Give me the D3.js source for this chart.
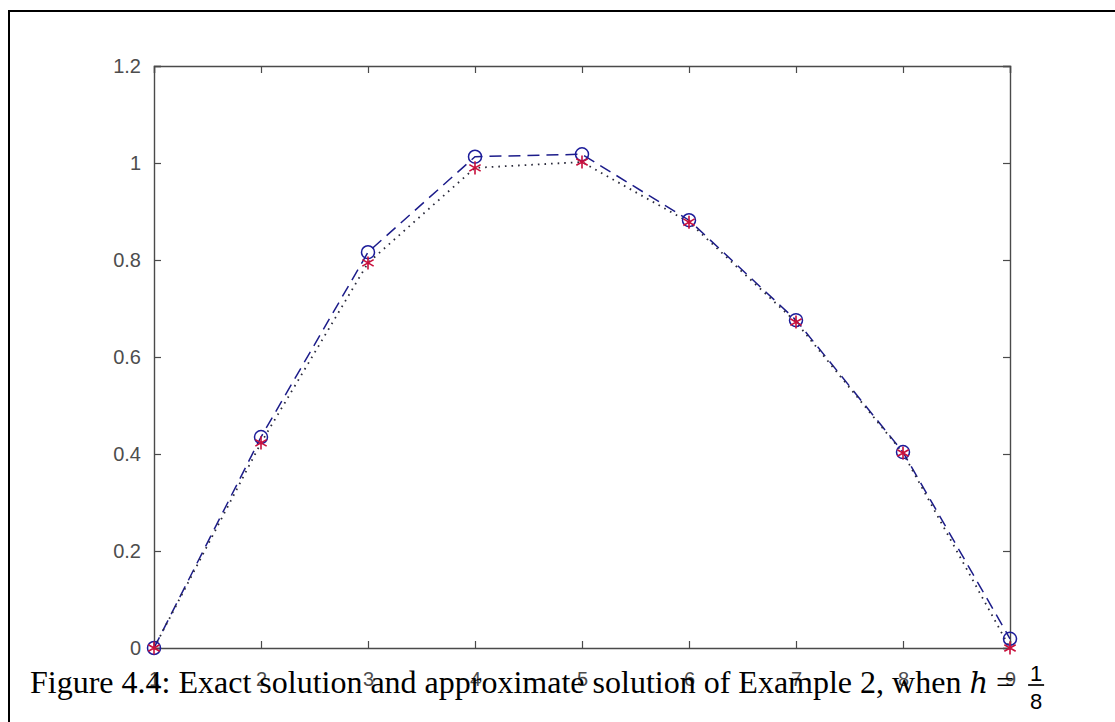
<!DOCTYPE html>
<html>
<head>
<meta charset="utf-8">
<script src="https://cdn.jsdelivr.net/npm/d3@7"></script>
<style>
  body { margin: 0; background: #fff; }
  svg { display: block; }
</style>
</head>
<body>
<div id="chart"></div>
<script>
const xValues = [1, 2, 3, 4, 5, 6, 7, 8, 9];
const exactValues = [0, 0.435, 0.816, 1.013, 1.018, 0.882, 0.676, 0.404, 0.019];
const approxValues = [0, 0.423, 0.794, 0.990, 1.002, 0.878, 0.672, 0.402, 0];
const yTicks = [0, 0.2, 0.4, 0.6, 0.8, 1, 1.2];
const captionText = 'Figure 4.4: Exact solution and approximate solution of Example 2, when ';

const width = 1115;
const height = 722;
const margin = { left: 154, top: 66, right: 105, bottom: 74 };

const svg = d3.select('#chart')
  .append('svg')
  .attr('width', width)
  .attr('height', height);

svg.append('rect').attr('width', width).attr('height', height).attr('fill', '#fff');

// page frame (runs off the right and bottom)
svg.append('rect')
  .attr('x', 9).attr('y', 11)
  .attr('width', 1200).attr('height', 800)
  .attr('fill', 'none').attr('stroke', '#000').attr('stroke-width', 2);

const x = d3.scaleLinear().domain([1, 9]).range([margin.left, width - margin.right]);
const y = d3.scaleLinear().domain([0, 1.2]).range([height - margin.bottom, margin.top]);

const axisColor = '#4a4a4a';
const tickFont = 'Liberation Sans, Arial, sans-serif';

const fmt = d => (d === 0 || d === 1) ? String(d) : d.toFixed(1);

const gx = svg.append('g')
  .attr('transform', `translate(0,${y(0)})`)
  .call(d3.axisBottom(x).tickValues(xValues).tickSize(-7).tickPadding(24).tickFormat(d3.format('d')));
const gxTop = svg.append('g')
  .attr('transform', `translate(0,${y(1.2)})`)
  .call(d3.axisTop(x).tickValues(xValues).tickSize(-7).tickFormat(''));
const gy = svg.append('g')
  .attr('transform', `translate(${x(1)},0)`)
  .call(d3.axisLeft(y).tickValues(yTicks).tickSize(-7).tickPadding(13).tickFormat(fmt));
const gyRight = svg.append('g')
  .attr('transform', `translate(${x(9)},0)`)
  .call(d3.axisRight(y).tickValues(yTicks).tickSize(-7).tickFormat(''));

[gx, gxTop, gy, gyRight].forEach(g => {
  g.select('.domain').attr('stroke', axisColor).attr('stroke-width', 1.4);
  g.selectAll('.tick line').attr('stroke', axisColor).attr('stroke-width', 1.2);
  g.selectAll('.tick text')
    .attr('fill', '#4d4d4d')
    .style('font-family', tickFont)
    .style('font-size', '20px');
});

// exact solution: dashed blue with circles
const line = d3.line().x((d, i) => x(xValues[i])).y(d => y(d));

svg.append('path')
  .datum(exactValues)
  .attr('d', line)
  .attr('fill', 'none')
  .attr('stroke', '#1c1c8a')
  .attr('stroke-width', 1.5)
  .attr('stroke-dasharray', '12,7');

// approximate solution: dotted with red stars
svg.append('path')
  .datum(approxValues)
  .attr('d', line)
  .attr('fill', 'none')
  .attr('stroke', '#2a2a3a')
  .attr('stroke-width', 1.8)
  .attr('stroke-dasharray', '1.6,5');

svg.append('g')
  .selectAll('circle')
  .data(exactValues)
  .join('circle')
  .attr('cx', (d, i) => x(xValues[i]))
  .attr('cy', d => y(d))
  .attr('r', 6.5)
  .attr('fill', 'none')
  .attr('stroke', '#1c1c9a')
  .attr('stroke-width', 1.5);

const star = d3.symbol().type(d3.symbolAsterisk).size(120);
svg.append('g')
  .selectAll('path')
  .data(approxValues)
  .join('path')
  .attr('transform', (d, i) => `translate(${x(xValues[i])},${y(d)})`)
  .attr('d', star)
  .attr('fill', 'none')
  .attr('stroke', '#c8103c')
  .attr('stroke-width', 1.6);

// caption
const capY = 693;
const cap = svg.append('text')
  .attr('x', 30)
  .attr('y', capY)
  .attr('fill', '#000')
  .style('font-family', 'Liberation Serif, Times New Roman, serif')
  .style('font-size', '32px');
cap.append('tspan').text(captionText);
cap.append('tspan')
  .style('font-style', 'italic')
  .style('font-family', 'DejaVu Serif, serif')
  .style('font-size', '29px')
  .text('h');
cap.append('tspan').text(' = ');

const capEnd = 30 + cap.node().getComputedTextLength();
const fracX = capEnd + 22;
const frac = svg.append('g').attr('transform', `translate(${fracX},0)`);
frac.append('text')
  .attr('y', 681)
  .attr('text-anchor', 'middle')
  .style('font-family', 'Liberation Sans, Arial, sans-serif')
  .style('font-size', '22px')
  .text('1');
frac.append('line')
  .attr('x1', -8).attr('x2', 8)
  .attr('y1', 685).attr('y2', 685)
  .attr('stroke', '#000').attr('stroke-width', 1.7);
frac.append('text')
  .attr('y', 709)
  .attr('text-anchor', 'middle')
  .style('font-family', 'Liberation Sans, Arial, sans-serif')
  .style('font-size', '22px')
  .text('8');
</script>
</body>
</html>
